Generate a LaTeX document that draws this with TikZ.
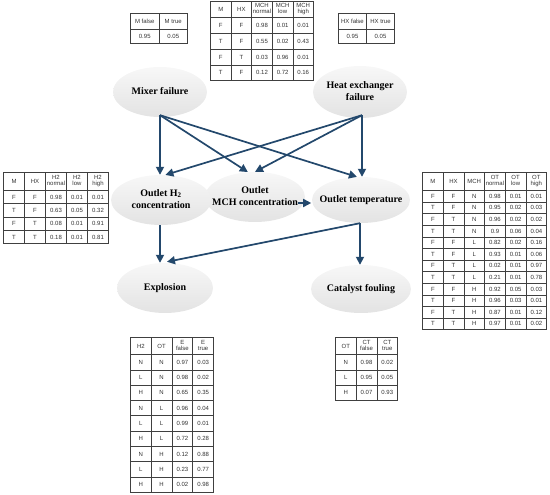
\documentclass[tikz,border=0pt]{standalone}
\usepackage{fontspec}
\setmainfont{Liberation Serif}
\newfontfamily\cptfont{Liberation Sans}
\usetikzlibrary{shapes.geometric, arrows.meta, matrix}

\definecolor{linkblue}{HTML}{23486C}
\definecolor{gridgray}{HTML}{404040}

\newcommand{\hd}[2]{{\renewcommand{\arraystretch}{0.85}\begin{tabular}{@{}c@{}}#1\\#2\end{tabular}}}
\newcommand{\evt}[1]{\makebox[0pt]{\begin{tabular}{@{}c@{}}#1\end{tabular}}}

\tikzset{
    event/.style={ellipse, top color=black!3, bottom color=black!11, inner sep=0pt,
        font=\bfseries\fontsize{10}{12.5}\selectfont},
    link/.style={-{Triangle[length=8pt, width=8pt]}, line width=1.7pt, draw=linkblue},
    cpt/.style={matrix of nodes, anchor=north west, inner sep=0pt, column sep=-0.6pt, row sep=-0.6pt,
        nodes={draw=gridgray, line width=0.6pt, inner sep=0pt, anchor=center,
            font=\cptfont\fontsize{6}{7}\selectfont, text=black!80}},
}

\begin{document}
\begin{tikzpicture}[x=1pt, y=-1pt]
    \useasboundingbox (0, 0) rectangle (550, 495);

    \node[event, minimum width=94pt, minimum height=50pt] (mix) at (160, 92) {\evt{Mixer failure}};
    \node[event, minimum width=94pt, minimum height=52pt] (hx) at (360, 92) {\evt{Heat exchanger\\failure}};
    \node[event, minimum width=100pt, minimum height=50pt] (mch) at (255, 197) {\evt{Outlet\\MCH concentration}};
    \node[event, minimum width=100pt, minimum height=50pt] (h2) at (161, 200) {\evt{Outlet H\textsubscript{2}\\concentration}};
    \node[event, minimum width=98pt, minimum height=46pt] (temp) at (361, 200) {\evt{Outlet temperature}};
    \node[event, minimum width=96pt, minimum height=50pt] (expl) at (165, 288) {\evt{Explosion}};
    \node[event, minimum width=100pt, minimum height=48pt] (cat) at (361, 289) {\evt{Catalyst fouling}};

    \coordinate (mixout) at ([yshift=2pt]mix.south);
    \coordinate (hxout) at ([xshift=2pt, yshift=3pt]hx.south);
    \coordinate (mchout) at ([xshift=-7pt, yshift=-6pt]mch.east);
    \coordinate (h2out) at ([xshift=-1pt]h2.south);
    \coordinate (tempout) at ([xshift=-1pt]temp.south);

    \draw[link] (mixout) -- (mixout |- h2.north);
    \draw[link] (mixout) -- (mch.106);
    \draw[link] (mixout) -- (temp.100);
    \draw[link] (hxout) -- (h2.80);
    \draw[link] (hxout) -- (mch.north);
    \draw[link] (hxout) -- (hxout |- temp.north);
    \draw[link] (mchout) -- ([xshift=13pt]mchout);
    \draw[link] (h2out) -- (h2out |- expl.north);
    \draw[link] (tempout) -- ([xshift=2pt, yshift=1pt]expl.north);
    \draw[link] (tempout) -- (tempout |- cat.north);

    \matrix[cpt, nodes={minimum width=28.5pt, minimum height=14pt},
        row 1/.style={nodes={minimum height=16pt}}] (mcpt) at (130, 13) {
        M false & M true \\
        0.95 & 0.05 \\
    };

    \matrix[cpt, nodes={minimum width=20.6pt, minimum height=15.8pt},
        row 1/.style={nodes={minimum height=16pt}}] (mchcpt) at (210, 1) {
        M & HX & \hd{MCH}{normal} & \hd{MCH}{low} & \hd{MCH}{high} \\
        F & F & 0.98 & 0.01 & 0.01 \\
        T & F & 0.55 & 0.02 & 0.43 \\
        F & T & 0.03 & 0.96 & 0.01 \\
        T & F & 0.12 & 0.72 & 0.16 \\
    };

    \matrix[cpt, nodes={minimum width=28pt, minimum height=14pt},
        row 1/.style={nodes={minimum height=16pt}}] (hxcpt) at (338, 13) {
        HX false & HX true \\
        0.95 & 0.05 \\
    };

    \matrix[cpt, nodes={minimum width=21pt, minimum height=13.3pt},
        row 1/.style={nodes={minimum height=18pt}}] (h2cpt) at (3, 172) {
        M & HX & \hd{H2}{normal} & \hd{H2}{low} & \hd{H2}{high} \\
        F & F & 0.98 & 0.01 & 0.01 \\
        T & F & 0.63 & 0.05 & 0.32 \\
        F & T & 0.08 & 0.01 & 0.91 \\
        T & T & 0.18 & 0.01 & 0.81 \\
    };

    \matrix[cpt, nodes={minimum width=20.7pt, minimum height=11.6pt},
        row 1/.style={nodes={minimum height=18pt}}] (otcpt) at (422, 172) {
        M & HX & MCH & \hd{OT}{normal} & \hd{OT}{low} & \hd{OT}{high} \\
        F & F & N & 0.98 & 0.01 & 0.01 \\
        T & F & N & 0.95 & 0.02 & 0.03 \\
        F & T & N & 0.96 & 0.02 & 0.02 \\
        T & T & N & 0.9 & 0.06 & 0.04 \\
        F & F & L & 0.82 & 0.02 & 0.16 \\
        T & F & L & 0.93 & 0.01 & 0.06 \\
        F & T & L & 0.02 & 0.01 & 0.97 \\
        T & T & L & 0.21 & 0.01 & 0.78 \\
        F & F & H & 0.92 & 0.05 & 0.03 \\
        T & F & H & 0.96 & 0.03 & 0.01 \\
        F & T & H & 0.87 & 0.01 & 0.12 \\
        T & T & H & 0.97 & 0.01 & 0.02 \\
    };

    \matrix[cpt, nodes={minimum width=20.75pt, minimum height=15.3pt},
        row 1/.style={nodes={minimum height=17pt}}] (ecpt) at (130, 337) {
        H2 & OT & \hd{E}{false} & \hd{E}{true} \\
        N & N & 0.97 & 0.03 \\
        L & N & 0.98 & 0.02 \\
        H & N & 0.65 & 0.35 \\
        N & L & 0.96 & 0.04 \\
        L & L & 0.99 & 0.01 \\
        H & L & 0.72 & 0.28 \\
        N & H & 0.12 & 0.88 \\
        L & H & 0.23 & 0.77 \\
        H & H & 0.02 & 0.98 \\
    };

    \matrix[cpt, nodes={minimum width=20.7pt, minimum height=15.3pt},
        row 1/.style={nodes={minimum height=17pt}}] (ctcpt) at (335, 337) {
        OT & \hd{CT}{false} & \hd{CT}{true} \\
        N & 0.98 & 0.02 \\
        L & 0.95 & 0.05 \\
        H & 0.07 & 0.93 \\
    };
\end{tikzpicture}
\end{document}
